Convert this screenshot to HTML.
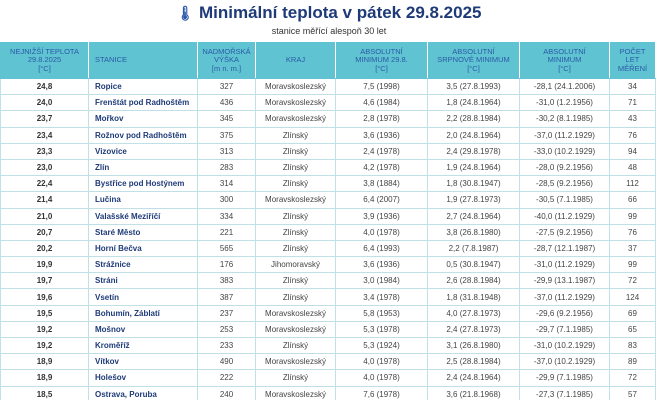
<!DOCTYPE html>
<html><head><meta charset="utf-8"><style>
html,body{margin:0;width:658px;height:400px;overflow:hidden;background:#fff;font-family:"Liberation Sans",sans-serif;position:relative}
.t{position:absolute;top:3px;left:0;width:658px;text-align:center;font-size:17px;font-weight:bold;color:#1e3a78}
.s{position:absolute;top:26px;left:0;width:658px;text-align:center;font-size:9px;color:#333}
table{position:absolute;top:42px;left:0;border-collapse:collapse;table-layout:fixed;width:655px}
td,th{border:1px solid #bfe0e6;font-size:8px;text-align:center;padding:0;height:15.2px;line-height:15px;color:#444;white-space:nowrap;overflow:hidden}
th{background:#5fc3d1;color:#2b5aa8;font-weight:normal;height:35px;line-height:8.5px;font-size:7.5px;border-color:#5fc3d1;border-right-color:#fff}
td.b{font-weight:bold;color:#333}
td.n{text-align:left;padding-left:6px;font-weight:bold;color:#1e3a78}
th.n{text-align:left;padding-left:6px}
</style></head><body>
<div class="t"><span style="font-size:14px;color:#2b5aa8">🌡</span> Minimální teplota v pátek 29.8.2025</div>
<div class="s">stanice měřící alespoň 30 let</div>
<table>
<colgroup><col style="width:88px"><col style="width:109px"><col style="width:58px"><col style="width:80px"><col style="width:92px"><col style="width:92px"><col style="width:90px"><col style="width:46px"></colgroup>
<tr><th>NEJNIŽŠÍ TEPLOTA<br>29.8.2025<br>[°C]</th><th class="n">STANICE</th><th>NADMOŘSKÁ<br>VÝŠKA<br>[m n. m.]</th><th>KRAJ</th><th>ABSOLUTNÍ<br>MINIMUM 29.8.<br>[°C]</th><th>ABSOLUTNÍ<br>SRPNOVÉ MINIMUM<br>[°C]</th><th>ABSOLUTNÍ<br>MINIMUM<br>[°C]</th><th>POČET<br>LET<br>MĚŘENÍ</th></tr>
<tr><td class="b">24,8</td><td class="n">Ropice</td><td>327</td><td>Moravskoslezský</td><td>7,5 (1998)</td><td>3,5 (27.8.1993)</td><td>-28,1 (24.1.2006)</td><td>34</td></tr>
<tr><td class="b">24,0</td><td class="n">Frenštát pod Radhoštěm</td><td>436</td><td>Moravskoslezský</td><td>4,6 (1984)</td><td>1,8 (24.8.1964)</td><td>-31,0 (1.2.1956)</td><td>71</td></tr>
<tr><td class="b">23,7</td><td class="n">Mořkov</td><td>345</td><td>Moravskoslezský</td><td>2,8 (1978)</td><td>2,2 (28.8.1984)</td><td>-30,2 (8.1.1985)</td><td>43</td></tr>
<tr><td class="b">23,4</td><td class="n">Rožnov pod Radhoštěm</td><td>375</td><td>Zlínský</td><td>3,6 (1936)</td><td>2,0 (24.8.1964)</td><td>-37,0 (11.2.1929)</td><td>76</td></tr>
<tr><td class="b">23,3</td><td class="n">Vizovice</td><td>313</td><td>Zlínský</td><td>2,4 (1978)</td><td>2,4 (29.8.1978)</td><td>-33,0 (10.2.1929)</td><td>94</td></tr>
<tr><td class="b">23,0</td><td class="n">Zlín</td><td>283</td><td>Zlínský</td><td>4,2 (1978)</td><td>1,9 (24.8.1964)</td><td>-28,0 (9.2.1956)</td><td>48</td></tr>
<tr><td class="b">22,4</td><td class="n">Bystřice pod Hostýnem</td><td>314</td><td>Zlínský</td><td>3,8 (1884)</td><td>1,8 (30.8.1947)</td><td>-28,5 (9.2.1956)</td><td>112</td></tr>
<tr><td class="b">21,4</td><td class="n">Lučina</td><td>300</td><td>Moravskoslezský</td><td>6,4 (2007)</td><td>1,9 (27.8.1973)</td><td>-30,5 (7.1.1985)</td><td>66</td></tr>
<tr><td class="b">21,0</td><td class="n">Valašské Meziříčí</td><td>334</td><td>Zlínský</td><td>3,9 (1936)</td><td>2,7 (24.8.1964)</td><td>-40,0 (11.2.1929)</td><td>99</td></tr>
<tr><td class="b">20,7</td><td class="n">Staré Město</td><td>221</td><td>Zlínský</td><td>4,0 (1978)</td><td>3,8 (26.8.1980)</td><td>-27,5 (9.2.1956)</td><td>76</td></tr>
<tr><td class="b">20,2</td><td class="n">Horní Bečva</td><td>565</td><td>Zlínský</td><td>6,4 (1993)</td><td>2,2 (7.8.1987)</td><td>-28,7 (12.1.1987)</td><td>37</td></tr>
<tr><td class="b">19,9</td><td class="n">Strážnice</td><td>176</td><td>Jihomoravský</td><td>3,6 (1936)</td><td>0,5 (30.8.1947)</td><td>-31,0 (11.2.1929)</td><td>99</td></tr>
<tr><td class="b">19,7</td><td class="n">Stráni</td><td>383</td><td>Zlínský</td><td>3,0 (1984)</td><td>2,6 (28.8.1984)</td><td>-29,9 (13.1.1987)</td><td>72</td></tr>
<tr><td class="b">19,6</td><td class="n">Vsetín</td><td>387</td><td>Zlínský</td><td>3,4 (1978)</td><td>1,8 (31.8.1948)</td><td>-37,0 (11.2.1929)</td><td>124</td></tr>
<tr><td class="b">19,5</td><td class="n">Bohumín, Záblatí</td><td>237</td><td>Moravskoslezský</td><td>5,8 (1953)</td><td>4,0 (27.8.1973)</td><td>-29,6 (9.2.1956)</td><td>69</td></tr>
<tr><td class="b">19,2</td><td class="n">Mošnov</td><td>253</td><td>Moravskoslezský</td><td>5,3 (1978)</td><td>2,4 (27.8.1973)</td><td>-29,7 (7.1.1985)</td><td>65</td></tr>
<tr><td class="b">19,2</td><td class="n">Kroměříž</td><td>233</td><td>Zlínský</td><td>5,3 (1924)</td><td>3,1 (26.8.1980)</td><td>-31,0 (10.2.1929)</td><td>83</td></tr>
<tr><td class="b">18,9</td><td class="n">Vítkov</td><td>490</td><td>Moravskoslezský</td><td>4,0 (1978)</td><td>2,5 (28.8.1984)</td><td>-37,0 (10.2.1929)</td><td>89</td></tr>
<tr><td class="b">18,9</td><td class="n">Holešov</td><td>222</td><td>Zlínský</td><td>4,0 (1978)</td><td>2,4 (24.8.1964)</td><td>-29,9 (7.1.1985)</td><td>72</td></tr>
<tr><td class="b">18,5</td><td class="n">Ostrava, Poruba</td><td>240</td><td>Moravskoslezský</td><td>7,6 (1978)</td><td>3,6 (21.8.1968)</td><td>-27,3 (7.1.1985)</td><td>57</td></tr>
</table>
</body></html>
